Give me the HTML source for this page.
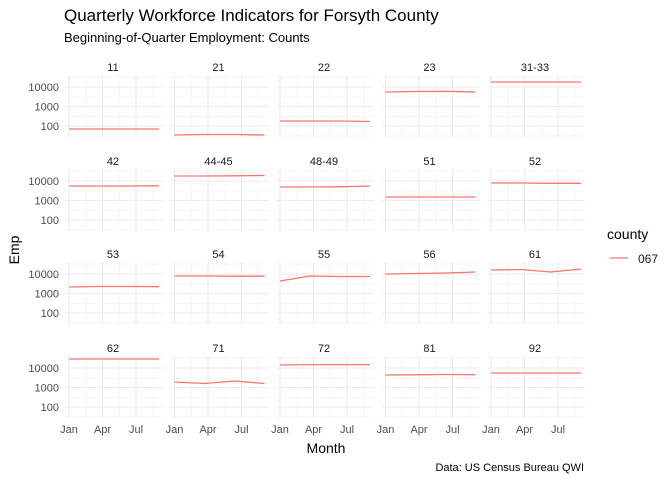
<!DOCTYPE html>
<html><head><meta charset="utf-8"><style>
html,body{margin:0;padding:0;background:#fff;}
svg{display:block;font-family:"Liberation Sans",sans-serif;}
</style></head><body>
<svg id="s" width="672" height="480" xmlns="http://www.w3.org/2000/svg">
<text x="64" y="21" font-size="17" fill="#000">Quarterly Workforce Indicators for Forsyth County</text>
<text x="64" y="42" font-size="13" fill="#000">Beginning-of-Quarter Employment: Counts</text>
<text x="326" y="453" font-size="14" text-anchor="middle" fill="#000">Month</text>
<text transform="translate(19,250) rotate(-90)" font-size="14" text-anchor="middle" fill="#000">Emp</text>
<text x="607" y="239" font-size="14" fill="#000">county</text>
<line x1="610" y1="258" x2="628" y2="258" stroke="#F8766D" stroke-width="1.3"/>
<text x="638" y="263" font-size="12" fill="#1a1a1a">067</text>
<text x="584" y="471" font-size="11" text-anchor="end" fill="#000">Data: US Census Bureau QWI</text>
<g id="g"></g>
</svg>
<script>
var g=document.getElementById('g'),h='';
var lefts=[65,170.5,276,381.5,487],tops=[75,169,262,356],W=98,H=62;
var labels=[["11","21","22","23","31-33"],["42","44-45","48-49","51","52"],["53","54","55","56","61"],["62","71","72","81","92"]];
var data=[[[54,54,54,54],[60,59.5,59.5,60],[46,46,46,46.5],[17,16.5,16.3,17],[7,7,7,7]],
[[17,17,17,16.8],[7,7,6.8,6.5],[18,18,17.8,17],[28,28,28,28],[14,14,14.3,14.3]],
[[25,24.5,24.5,24.7],[14,14,14.2,14.2],[19,14,14.5,14.5],[12,11.5,11,10],[8,7.5,10,7]],
[[3,3,3,3],[26,27.5,25,27.5],[9,8.6,8.6,8.6],[19,18.8,18.5,18.7],[17,17,17,17]]];
function y(v){return v;}
for(var r=0;r<4;r++)for(var c=0;c<5;c++){
 var L=lefts[c],T=tops[r];
 // minor grid
 [77,97,116.5,136].forEach(function(yy){var yy2=T+(yy-75);h+='<line x1="'+L+'" x2="'+(L+W)+'" y1="'+yy2+'" y2="'+yy2+'" stroke="#f3f3f3" stroke-width="0.7"/>';});
 [21,54.5,88].forEach(function(xx){h+='<line x1="'+(L+xx)+'" x2="'+(L+xx)+'" y1="'+T+'" y2="'+(T+H)+'" stroke="#f3f3f3" stroke-width="0.7"/>';});
 [87,106.5,126].forEach(function(yy){var yy2=T+(yy-75);h+='<line x1="'+L+'" x2="'+(L+W)+'" y1="'+yy2+'" y2="'+yy2+'" stroke="#ebebeb" stroke-width="1.1"/>';});
 [4,37.5,71].forEach(function(xx){h+='<line x1="'+(L+xx)+'" x2="'+(L+xx)+'" y1="'+T+'" y2="'+(T+H)+'" stroke="#ebebeb" stroke-width="1.1"/>';});
 h+='<text x="'+(L+W/2-1)+'" y="'+(T-4)+'" font-size="11" text-anchor="middle" fill="#1a1a1a">'+labels[r][c]+'</text>';
 var d=data[r][c],p='';
 for(var i=0;i<4;i++){p+=(i?'L':'M')+(L+4+i*30)+' '+(T+d[i]);}
 h+='<path d="'+p+'" fill="none" stroke="#F8766D" stroke-width="1.3"/>';
 if(c==0){[["10000",87],["1000",106.5],["100",126]].forEach(function(t){h+='<text x="59" y="'+(T+t[1]-75+4)+'" font-size="11" text-anchor="end" fill="#4d4d4d">'+t[0]+'</text>';});}
 if(r==3){[["Jan",4],["Apr",37.5],["Jul",71]].forEach(function(t){h+='<text x="'+(L+t[1])+'" y="'+(T+H+15)+'" font-size="11" text-anchor="middle" fill="#4d4d4d">'+t[0]+'</text>';});}
}
g.innerHTML=h;
</script>
</body></html>
